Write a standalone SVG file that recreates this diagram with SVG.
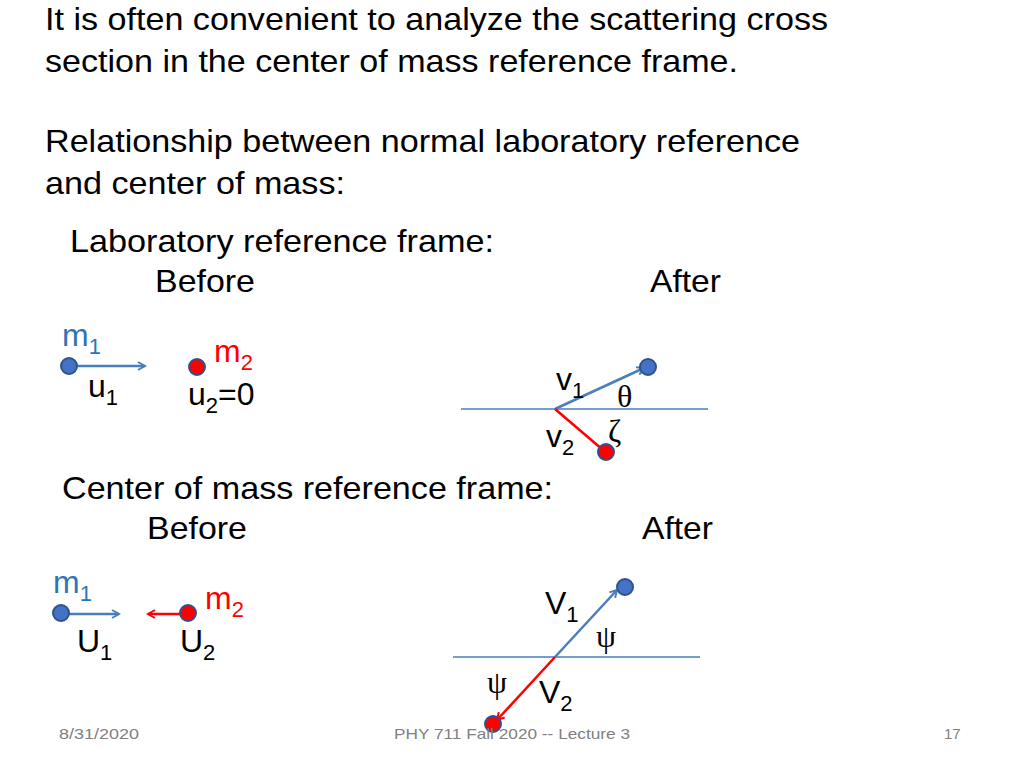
<svg xmlns="http://www.w3.org/2000/svg" width="1024" height="768" viewBox="0 0 1024 768">
<style>
text{font-family:"Liberation Sans",Arial,sans-serif;fill:#000}
.t{font-size:32px}
.l{font-size:32px}
.s{font-size:22px}
.b{fill:#2E75B6}
.r{fill:#FF0000}
.g{font-family:"Liberation Serif",serif}
.f{font-size:15px;fill:#808080}
.bn{fill:#4472C4;stroke:#2F528F;stroke-width:2}
.rn{fill:#FF0000;stroke:#2F528F;stroke-width:2}
</style>
<defs>
<marker id="ab" markerWidth="10" markerHeight="10" refX="8" refY="5" orient="auto" markerUnits="userSpaceOnUse"><path d="M1,1 L8,5 L1,9" fill="none" stroke="#4A7EBB" stroke-width="2"/></marker>
<marker id="ar" markerWidth="10" markerHeight="10" refX="8" refY="5" orient="auto" markerUnits="userSpaceOnUse"><path d="M1,1 L8,5 L1,9" fill="none" stroke="#FF0000" stroke-width="2"/></marker>
</defs>
<text class="t" x="45" y="30" textLength="783" lengthAdjust="spacingAndGlyphs">It is often convenient to analyze the scattering cross</text>
<text class="t" x="45" y="72" textLength="693" lengthAdjust="spacingAndGlyphs">section in the center of mass reference frame.</text>
<text class="t" x="45" y="152" textLength="755" lengthAdjust="spacingAndGlyphs">Relationship between normal laboratory reference</text>
<text class="t" x="45" y="194" textLength="300" lengthAdjust="spacingAndGlyphs">and center of mass:</text>
<text class="t" x="70" y="252" textLength="424" lengthAdjust="spacingAndGlyphs">Laboratory reference frame:</text>
<text class="t" x="155" y="292" textLength="100" lengthAdjust="spacingAndGlyphs">Before</text>
<text class="t" x="650" y="292" textLength="71" lengthAdjust="spacingAndGlyphs">After</text>
<text class="t" x="62" y="499" textLength="491" lengthAdjust="spacingAndGlyphs">Center of mass reference frame:</text>
<text class="t" x="147" y="539" textLength="100" lengthAdjust="spacingAndGlyphs">Before</text>
<text class="t" x="642" y="539" textLength="71" lengthAdjust="spacingAndGlyphs">After</text>
<g id="connectors" fill="none" stroke-width="2.5">
<line x1="461" y1="409" x2="708" y2="409" stroke="#4A7EBB" stroke-width="1.5"/>
<line x1="453" y1="657" x2="700" y2="657" stroke="#4A7EBB" stroke-width="1.5"/>
<line x1="68" y1="366" x2="145" y2="366" stroke="#4A7EBB" marker-end="url(#ab)"/>
<line x1="555" y1="409" x2="644" y2="368" stroke="#4A7EBB" marker-end="url(#ab)"/>
<line x1="555" y1="409" x2="603" y2="450" stroke="#FF0000"/>
<line x1="60" y1="614" x2="119" y2="614" stroke="#4A7EBB" marker-end="url(#ab)"/>
<line x1="186" y1="614" x2="148" y2="614" stroke="#FF0000" marker-end="url(#ar)"/>
<line x1="555" y1="657" x2="617" y2="590" stroke="#4A7EBB" marker-end="url(#ab)"/>
<line x1="555" y1="657" x2="497" y2="720" stroke="#FF0000" marker-end="url(#ar)"/>
</g>
<g id="lab-m1"><circle class="bn" cx="69" cy="366" r="8"/><text class="l b" x="62" y="346">m<tspan class="s" dy="8">1</tspan></text><text class="l" x="88" y="397">u<tspan class="s" dy="8">1</tspan></text></g>
<g id="lab-m2"><circle class="rn" cx="197" cy="367" r="8"/><text class="l r" x="214" y="362">m<tspan class="s r" dy="8">2</tspan></text><text class="l" x="188" y="405">u<tspan class="s" dy="8">2</tspan><tspan dy="-8">=0</tspan></text></g>
<g id="lab-after"><circle class="bn" cx="648" cy="367" r="8"/><circle class="rn" cx="606" cy="452" r="8"/>
<text class="l" x="556" y="390">v<tspan class="s" dy="8">1</tspan></text>
<text class="l g" x="617" y="407">θ</text>
<text class="l" x="546" y="447">v<tspan class="s" dy="8">2</tspan></text>
<text class="l g" x="608" y="442">ζ</text></g>
<g id="cm-m1"><circle class="bn" cx="61" cy="613" r="8"/><text class="l b" x="53" y="593">m<tspan class="s" dy="8">1</tspan></text><text class="l" x="77" y="652">U<tspan class="s" dy="8">1</tspan></text></g>
<g id="cm-m2"><circle class="rn" cx="188" cy="613" r="8"/><text class="l r" x="205" y="609">m<tspan class="s r" dy="8">2</tspan></text><text class="l" x="180" y="652">U<tspan class="s" dy="8">2</tspan></text></g>
<g id="cm-after"><circle class="bn" cx="625" cy="587" r="8"/><circle class="rn" cx="493" cy="724" r="8"/>
<text class="l" x="545" y="614">V<tspan class="s" dy="8">1</tspan></text>
<text class="l g" x="596" y="647">ψ</text>
<text class="l g" x="487" y="693">ψ</text>
<text class="l" x="539" y="703">V<tspan class="s" dy="8">2</tspan></text></g>
<text class="f" x="59" y="739" textLength="80" lengthAdjust="spacingAndGlyphs">8/31/2020</text>
<text class="f" x="394" y="739" textLength="236" lengthAdjust="spacingAndGlyphs">PHY 711  Fall 2020 -- Lecture 3</text>
<text class="f" x="944" y="739">17</text>
</svg>
